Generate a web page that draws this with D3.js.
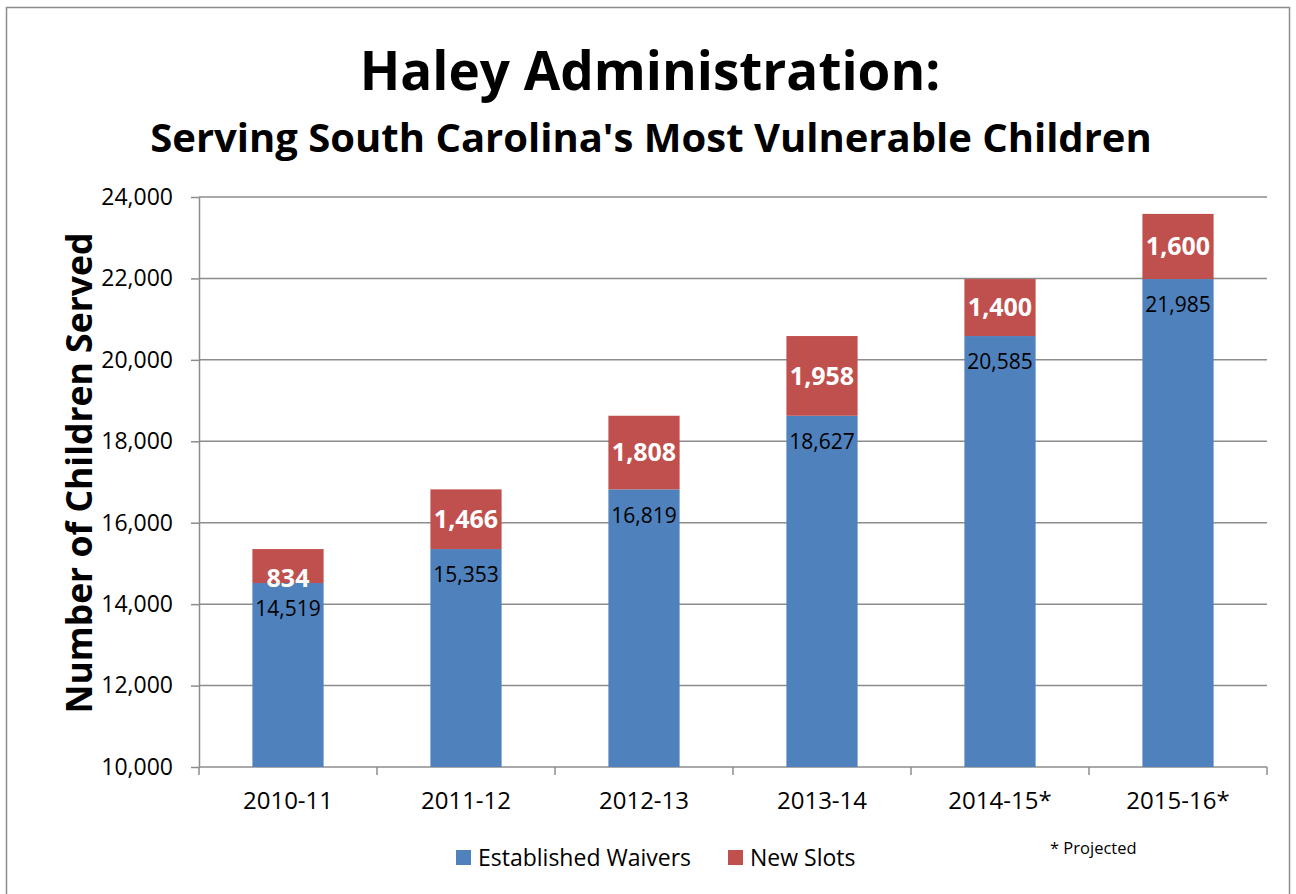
<!DOCTYPE html>
<html>
<head>
	<meta charset="utf-8">
	<script src="https://d3js.org/d3.v7.min.js"></script>
	<style>
		body { margin: 0; background: #fff; }
		text { font-family: "Open Sans", sans-serif; }
		.grid line { stroke: #8c8c8c; stroke-width: 1.5; }
		.axis path, .axis line { stroke: #8c8c8c; stroke-width: 1.5; }
	</style>
</head>
<body>
	<svg width="1296" height="894"></svg>
	<script>
		var categories = ["2010-11", "2011-12", "2012-13", "2013-14", "2014-15*", "2015-16*"];
		var established = [14519, 15353, 16819, 18627, 20585, 21985];
		var newSlots = [834, 1466, 1808, 1958, 1400, 1600];
		var yTicks = [10000, 12000, 14000, 16000, 18000, 20000, 22000, 24000];
		var seriesNames = ["Established Waivers", "New Slots"];
		var colors = ["#4f81bd", "#c0504d"];

		var svg = d3.select("svg"),
		margin = {top: 197, right: 29, bottom: 127, left: 199},
		width = 1296 - margin.left - margin.right,
		height = 894 - margin.top - margin.bottom;

		// outer chart border
		svg.append("rect")
		.attr("x", 6.5).attr("y", 7.5)
		.attr("width", 1283).attr("height", 900)
		.attr("fill", "none").attr("stroke", "#8c8c8c").attr("stroke-width", 1.5);

		svg.append("text")
		.attr("x", 650).attr("y", 90)
		.attr("text-anchor", "middle")
		.style("font-weight", "bold").style("font-size", "53px")
		.text("Haley Administration:");

		svg.append("text")
		.attr("x", 651).attr("y", 152)
		.attr("text-anchor", "middle")
		.style("font-weight", "bold").style("font-size", "40px")
		.text("Serving South Carolina's Most Vulnerable Children");

		var x = d3.scaleBand().domain(categories).range([0, width]).paddingInner(0.6).paddingOuter(0.3),
		xb = d3.scaleBand().domain(categories).range([0, width]),
		y = d3.scaleLinear().domain([10000, 24000]).range([height, 0]);

		var g = svg.append("g")
		.attr("transform", "translate(" + margin.left + "," + margin.top + ")");

		g.append("g")
		.attr("class", "grid")
		.selectAll("line")
		.data(yTicks.slice(1))
		.enter().append("line")
		.attr("x1", 0).attr("x2", width)
		.attr("y1", function(d) { return y(d); })
		.attr("y2", function(d) { return y(d); });

		var yAxis = g.append("g")
		.attr("class", "axis")
		.call(d3.axisLeft(y).tickValues(yTicks).tickSize(8).tickPadding(18).tickFormat(d3.format(",")).tickSizeOuter(0));
		yAxis.selectAll("text").style("font-size", "23px").attr("fill", "#000");

		// x axis: ticks at category boundaries
		var xAxis = g.append("g")
		.attr("class", "axis")
		.attr("transform", "translate(0," + height + ")");
		xAxis.append("line").attr("x1", 0).attr("x2", width);
		xAxis.selectAll(".bound")
		.data(categories.concat(["end"]))
		.enter().append("line")
		.attr("class", "bound")
		.attr("x1", function(d, i) { return i < categories.length ? xb(d) : width; })
		.attr("x2", function(d, i) { return i < categories.length ? xb(d) : width; })
		.attr("y1", 0).attr("y2", 8);
		xAxis.selectAll(".lab")
		.data(categories)
		.enter().append("text")
		.attr("class", "lab")
		.attr("x", function(d) { return xb(d) + xb.bandwidth() / 2; })
		.attr("y", 42)
		.attr("text-anchor", "middle")
		.style("font-size", "24px")
		.text(function(d) { return d; });

		var data = categories.map(function(c, i) {
			return {cat: c, est: established[i], add: newSlots[i]};
		});

		var bar = g.selectAll(".bar")
		.data(data)
		.enter().append("g");

		bar.append("rect")
		.attr("x", function(d) { return x(d.cat); })
		.attr("y", function(d) { return y(d.est); })
		.attr("width", x.bandwidth())
		.attr("height", function(d) { return height - y(d.est); })
		.attr("fill", colors[0]);

		bar.append("rect")
		.attr("x", function(d) { return x(d.cat); })
		.attr("y", function(d) { return y(d.est + d.add); })
		.attr("width", x.bandwidth())
		.attr("height", function(d) { return y(d.est) - y(d.est + d.add); })
		.attr("fill", colors[1]);

		bar.append("text")
		.attr("x", function(d) { return x(d.cat) + x.bandwidth() / 2; })
		.attr("y", function(d) { return y(d.est) + 26; })
		.attr("dy", ".35em")
		.attr("text-anchor", "middle")
		.style("font-size", "21px")
		.text(function(d) { return d3.format(",")(d.est); });

		bar.append("text")
		.attr("x", function(d) { return x(d.cat) + x.bandwidth() / 2; })
		.attr("y", function(d) { return (y(d.est) + y(d.est + d.add)) / 2 + (d.add < 1000 ? 12 : 0); })
		.attr("dy", ".35em")
		.attr("text-anchor", "middle")
		.attr("fill", "#fff")
		.style("font-weight", "bold").style("font-size", "25px")
		.text(function(d) { return d3.format(",")(d.add); });

		svg.append("text")
		.attr("transform", "translate(80," + (margin.top + height / 2 - 9) + ") rotate(-90)")
		.attr("text-anchor", "middle")
		.attr("dy", "0.35em")
		.style("font-weight", "bold").style("font-size", "35.5px")
		.text("Number of Children Served");

		// legend
		var legend = svg.append("g").attr("transform", "translate(456,858)");
		var lx = [0, 272];
		seriesNames.forEach(function(name, i) {
			legend.append("rect")
			.attr("x", lx[i]).attr("y", -8)
			.attr("width", 15).attr("height", 15)
			.attr("fill", colors[i]);
			legend.append("text")
			.attr("x", lx[i] + 22).attr("y", 0)
			.attr("dy", "0.35em")
			.style("font-size", "23px")
			.text(name);
		});

		svg.append("text")
		.attr("x", 1050).attr("y", 854)
		.style("font-size", "16.5px")
		.text("*  Projected");
	</script>
</body>
</html>
